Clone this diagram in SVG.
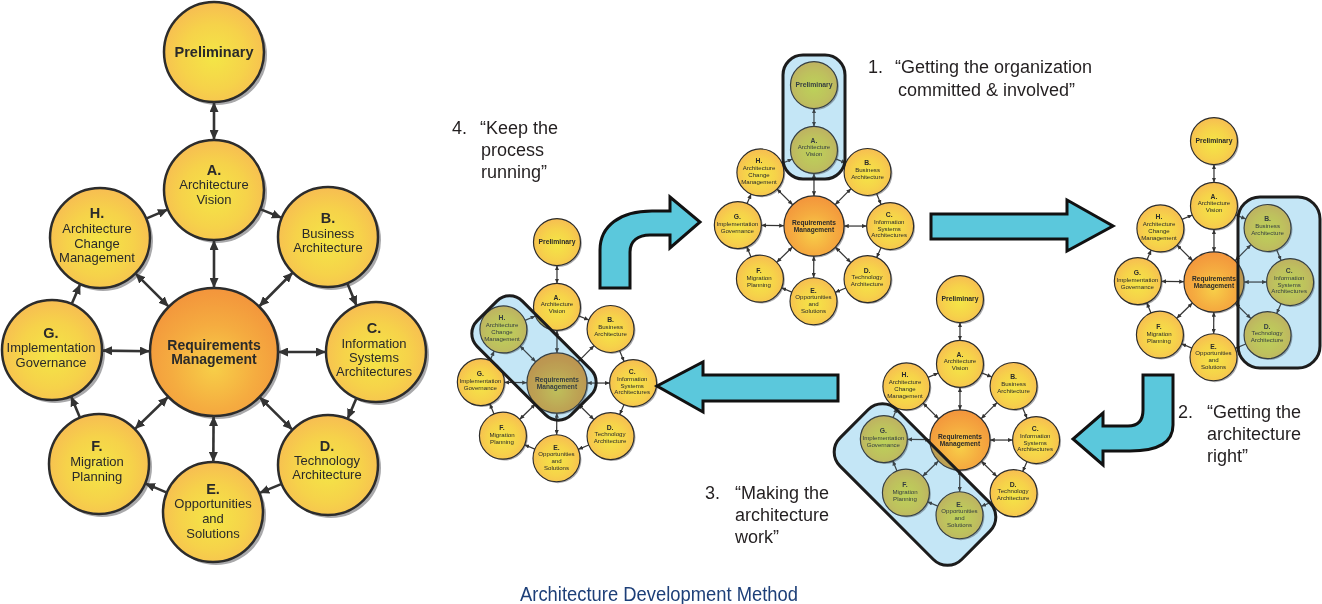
<svg xmlns="http://www.w3.org/2000/svg" xmlns:xlink="http://www.w3.org/1999/xlink" width="1322" height="604" viewBox="0 0 1322 604">
<style>
.sh{fill:#a9a9ab}
.nd{fill:url(#gY);stroke:#2c2c2c;stroke-width:2.5}
.rm{fill:url(#gO);stroke:#2c2c2c;stroke-width:2.5}
.t{font-family:"Liberation Sans",Arial,sans-serif;font-size:13px;text-anchor:middle;fill:#2a2a2a}
.b{font-weight:bold;font-size:14.5px}
.c{stroke:#333;stroke-width:2.6;fill:none;marker-end:url(#ah)}
.d{marker-start:url(#ah)}
.arr{fill:#5bc8dc;stroke:#111;stroke-width:3;stroke-linejoin:miter}
.hl{fill:#c4e6f6;mix-blend-mode:multiply}
.hv{fill:#c4e6f6;opacity:0.12}
.hb{fill:none;stroke:#1c1c1c;stroke-width:3}
.q{font-family:"Liberation Sans",Arial,sans-serif;font-size:18px;fill:#231f20}
</style>
<defs>
<radialGradient id="gY" cx="0.5" cy="0.55" r="0.55"><stop offset="0" stop-color="#f4e646"/><stop offset="0.6" stop-color="#f6d24a"/><stop offset="1" stop-color="#f7bd52"/></radialGradient>
<radialGradient id="gO" cx="0.5" cy="0.62" r="0.6"><stop offset="0" stop-color="#f7cf48"/><stop offset="0.55" stop-color="#f5ac40"/><stop offset="1" stop-color="#f3963c"/></radialGradient>
<marker id="ah" viewBox="0 0 10 9" refX="10" refY="4.5" markerWidth="10" markerHeight="9" markerUnits="userSpaceOnUse" orient="auto-start-reverse"><path d="M0,0 L10,4.5 L0,9 z" fill="#333"/></marker>
</defs>
<rect width="1322" height="604" fill="#fff"/>

<g id="adm-main">
 <g id="node-prelim"><circle class="sh" cx="217" cy="55" r="50"/><circle class="nd" cx="214" cy="52" r="50"/><text class="t b" x="214" y="57">Preliminary</text></g>
 <g id="node-a"><circle class="sh" cx="217" cy="193" r="50"/><circle class="nd" cx="214" cy="190" r="50"/><text class="t b" x="214" y="175">A.</text><text class="t" x="214" y="189">Architecture</text><text class="t" x="214" y="204">Vision</text></g>
 <g id="node-b"><circle class="sh" cx="331" cy="240" r="50"/><circle class="nd" cx="328" cy="237" r="50"/><text class="t b" x="328" y="223">B.</text><text class="t" x="328" y="238">Business</text><text class="t" x="328" y="252">Architecture</text></g>
 <g id="node-c"><circle class="sh" cx="379" cy="355" r="50"/><circle class="nd" cx="376" cy="352" r="50"/><text class="t b" x="374" y="333">C.</text><text class="t" x="374" y="348">Information</text><text class="t" x="374" y="362">Systems</text><text class="t" x="374" y="376">Architectures</text></g>
 <g id="node-d"><circle class="sh" cx="331" cy="468" r="50"/><circle class="nd" cx="328" cy="465" r="50"/><text class="t b" x="327" y="451">D.</text><text class="t" x="327" y="465">Technology</text><text class="t" x="327" y="479">Architecture</text></g>
 <g id="node-e"><circle class="sh" cx="216" cy="515" r="50"/><circle class="nd" cx="213" cy="512" r="50"/><text class="t b" x="213" y="494">E.</text><text class="t" x="213" y="508">Opportunities</text><text class="t" x="213" y="523">and</text><text class="t" x="213" y="538">Solutions</text></g>
 <g id="node-f"><circle class="sh" cx="102" cy="467" r="50"/><circle class="nd" cx="99" cy="464" r="50"/><text class="t b" x="97" y="451">F.</text><text class="t" x="97" y="466">Migration</text><text class="t" x="97" y="481">Planning</text></g>
 <g id="node-g"><circle class="sh" cx="55" cy="353" r="50"/><circle class="nd" cx="52" cy="350" r="50"/><text class="t b" x="51" y="338">G.</text><text class="t" x="51" y="352">Implementation</text><text class="t" x="51" y="367">Governance</text></g>
 <g id="node-h"><circle class="sh" cx="103" cy="241" r="50"/><circle class="nd" cx="100" cy="238" r="50"/><text class="t b" x="97" y="218">H.</text><text class="t" x="97" y="233">Architecture</text><text class="t" x="97" y="248">Change</text><text class="t" x="97" y="262">Management</text></g>
 <g id="node-rm"><circle class="sh" cx="217" cy="355" r="64"/><circle class="rm" cx="214" cy="352" r="64"/><text class="t b" style="font-size:14px" x="214" y="350">Requirements</text><text class="t b" style="font-size:14px" x="214" y="364">Management</text></g>
 <g id="connectors">
  <line class="c d" x1="214" y1="102" x2="214" y2="140"/>
  <line class="c" x1="260.2" y1="209.1" x2="281.8" y2="217.9"/>
  <line class="c" x1="347.3" y1="283.2" x2="356.7" y2="305.9"/>
  <line class="c" x1="356.5" y1="398" x2="347.5" y2="419"/>
  <line class="c" x1="281.7" y1="483.9" x2="259.3" y2="493.1"/>
  <line class="c" x1="166.9" y1="492.6" x2="145.1" y2="483.4"/>
  <line class="c" x1="80" y1="417.8" x2="71" y2="396.2"/>
  <line class="c" x1="71.7" y1="304" x2="80.3" y2="284"/>
  <line class="c" x1="146.1" y1="218.6" x2="167.9" y2="209.4"/>
  <line class="c d" x1="214" y1="288" x2="214" y2="240"/>
  <line class="c d" x1="259.1" y1="306.5" x2="292.8" y2="272.5"/>
  <line class="c d" x1="278" y1="352" x2="326" y2="352"/>
  <line class="c d" x1="259.5" y1="397.1" x2="292.5" y2="429.8"/>
  <line class="c d" x1="213.6" y1="416" x2="213.3" y2="462"/>
  <line class="c d" x1="168.2" y1="396.7" x2="134.8" y2="429.1"/>
  <line class="c d" x1="150" y1="351.2" x2="102" y2="350.6"/>
  <line class="c d" x1="168.7" y1="306.7" x2="135.4" y2="273.4"/>
 </g>
</g>

<g id="stage1">
 <use xlink:href="#adm-main" href="#adm-main" transform="translate(713.4,60.6) scale(0.47)"/>
 <rect class="hl" x="783" y="55" width="62" height="124" rx="20"/>
 <rect class="hv" x="783" y="55" width="62" height="124" rx="20"/>
 <rect class="hb" x="783" y="55" width="62" height="124" rx="20"/>
</g>
<g id="stage2">
 <use xlink:href="#adm-main" href="#adm-main" transform="translate(1113.4,116.6) scale(0.47)"/>
 <rect class="hl" x="1238" y="197" width="82" height="171" rx="22"/>
 <rect class="hv" x="1238" y="197" width="82" height="171" rx="22"/>
 <rect class="hb" x="1238" y="197" width="82" height="171" rx="22"/>
</g>
<g id="stage3">
 <use xlink:href="#adm-main" href="#adm-main" transform="translate(859.4,274.6) scale(0.47)"/>
 <rect class="hl" x="-86" y="-40" width="172" height="80" rx="20" transform="translate(915,484.5) rotate(45)"/>
 <rect class="hv" x="-86" y="-40" width="172" height="80" rx="20" transform="translate(915,484.5) rotate(45)"/>
 <rect class="hb" x="-86" y="-40" width="172" height="80" rx="20" transform="translate(915,484.5) rotate(45)"/>
</g>
<g id="stage4">
 <use xlink:href="#adm-main" href="#adm-main" transform="translate(456.4,217.6) scale(0.47)"/>
 <rect class="hl" x="-66.5" y="-32" width="133" height="64" rx="18" transform="translate(534,358) rotate(45)"/>
 <rect class="hv" x="-66.5" y="-32" width="133" height="64" rx="18" transform="translate(534,358) rotate(45)"/>
 <rect class="hb" x="-66.5" y="-32" width="133" height="64" rx="18" transform="translate(534,358) rotate(45)"/>
</g>

<g id="cycle-arrows">
 <path class="arr" d="M600,288 L600,250 C600,226 620,211 652,211 L670,211 L670,197 L700,222 L670,248 L670,235 L650,235 C638,235 630,241 630,252 L630,288 Z"/>
 <path class="arr" d="M931,214 L1067,214 L1067,200 L1113,226 L1067,251 L1067,239 L931,239 Z"/>
 <path class="arr" d="M1143,375 L1173,375 L1173,425 C1173,442 1160,451 1130,451 L1103,451 L1103,465 L1073,439 L1103,413 L1103,426 L1128,426 C1138,426 1143,421 1143,410 Z"/>
 <path class="arr" d="M838,375 L703,375 L703,362 L657,386 L703,412 L703,401 L838,401 Z"/>
</g>

<g id="captions">
 <text class="q" x="868" y="73">1.</text>
 <text class="q" x="895" y="73">“Getting the organization</text>
 <text class="q" x="898" y="96">committed &amp; involved”</text>
 <text class="q" x="1178" y="418">2.</text>
 <text class="q" x="1207" y="418">“Getting the</text>
 <text class="q" x="1207" y="440">architecture</text>
 <text class="q" x="1207" y="462">right”</text>
 <text class="q" x="705" y="499">3.</text>
 <text class="q" x="735" y="499">“Making the</text>
 <text class="q" x="735" y="521">architecture</text>
 <text class="q" x="735" y="543">work”</text>
 <text class="q" x="452" y="134">4.</text>
 <text class="q" x="480" y="134">“Keep the</text>
 <text class="q" x="481" y="156">process</text>
 <text class="q" x="481" y="178">running”</text>
 <text x="520" y="601" font-family="'Liberation Sans',Arial,sans-serif" font-size="20" fill="#1d3f78" textLength="278" lengthAdjust="spacingAndGlyphs">Architecture Development Method</text>
</g>
</svg>
